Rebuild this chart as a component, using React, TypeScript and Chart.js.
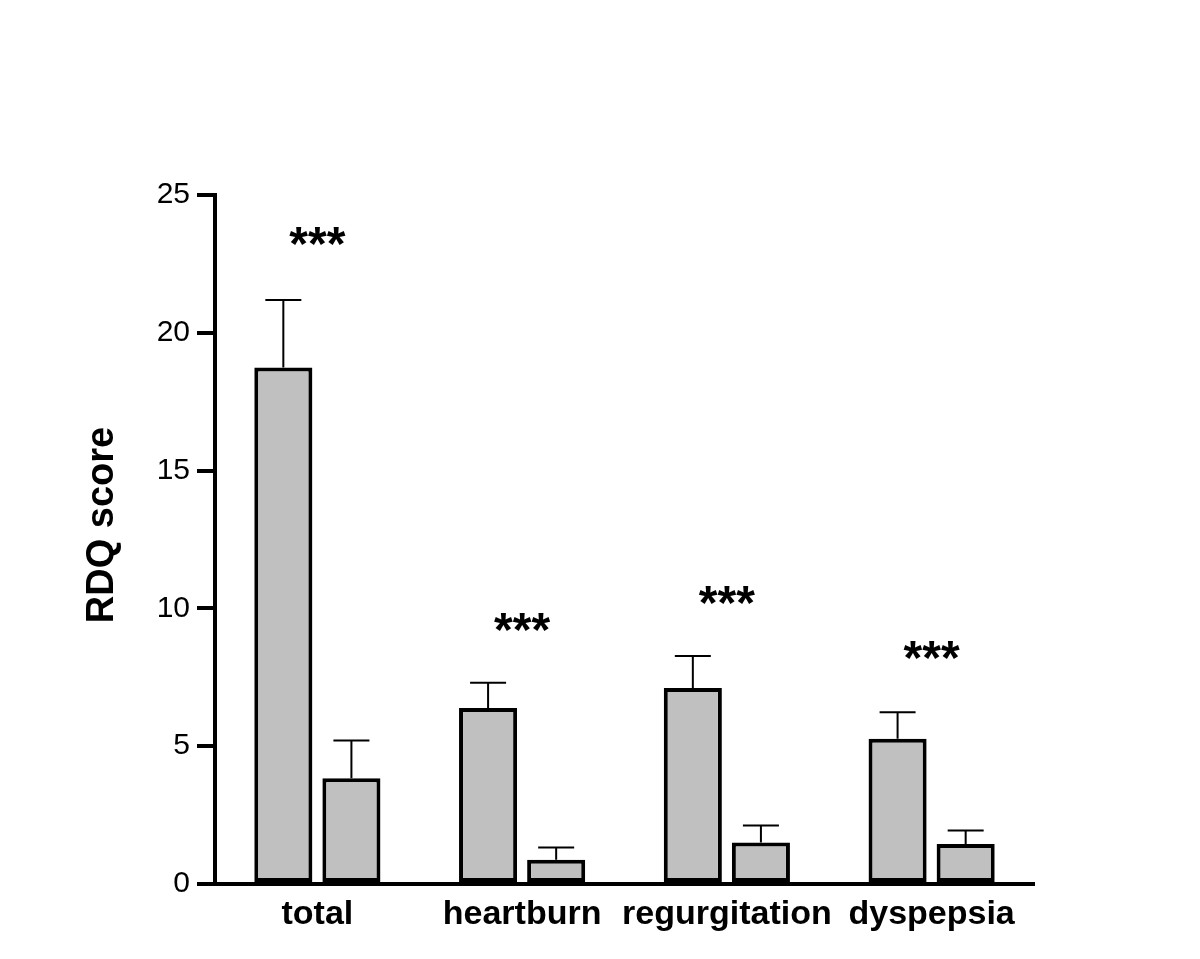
import React, { useEffect, useRef } from "react";
import { Chart, registerables } from "chart.js";

Chart.register(...registerables);

const categories = ["total", "heartburn", "regurgitation", "dyspepsia"];
const seriesNames = ["Before", "After"];
const beforeMeans = [18.74, 6.39, 7.11, 5.27];
const beforeSem = [2.45, 0.91, 1.16, 0.96];
const afterMeans = [3.84, 0.88, 1.51, 1.45];
const afterSem = [1.37, 0.44, 0.61, 0.49];
const starLevels = [23.5, 9.5, 10.5, 8.5];
const starLabels = ["***", "***", "***", "***"];
const yTickValues = [0, 5, 10, 15, 20, 25];
const yTitle = "RDQ score";

const FONT = '"Liberation Sans", Arial, Helvetica, sans-serif';

const errorBarPlugin = {
  id: "errorBars",
  afterDatasetsDraw(chart: any) {
    const ctx = chart.ctx;
    const yScale = chart.scales.y;
    chart.data.datasets.forEach((ds: any, di: number) => {
      const meta = chart.getDatasetMeta(di);
      meta.data.forEach((bar: any, i: number) => {
        const v = ds.data[i];
        const e = ds.errors[i];
        const yTop = yScale.getPixelForValue(v + e);
        const yBar = yScale.getPixelForValue(v);
        ctx.save();
        ctx.strokeStyle = "#000";
        ctx.lineWidth = 2;
        ctx.beginPath();
        ctx.moveTo(bar.x, yBar);
        ctx.lineTo(bar.x, yTop);
        ctx.moveTo(bar.x - 18, yTop);
        ctx.lineTo(bar.x + 18, yTop);
        ctx.stroke();
        ctx.restore();
      });
    });
  },
};

const annotationPlugin = {
  id: "stars",
  afterDraw(chart: any) {
    const ctx = chart.ctx;
    const xScale = chart.scales.x;
    const yScale = chart.scales.y;
    ctx.save();
    ctx.fillStyle = "#000";
    ctx.font = `bold 48px ${FONT}`;
    ctx.textAlign = "center";
    ctx.textBaseline = "alphabetic";
    starLabels.forEach((s, i) => {
      const m = ctx.measureText(s);
      const cy = yScale.getPixelForValue(starLevels[i]);
      const base = cy + (m.actualBoundingBoxAscent - m.actualBoundingBoxDescent) / 2;
      ctx.fillText(s, xScale.getPixelForValue(i), base);
    });
    // y axis title
    ctx.font = `bold 38px ${FONT}`;
    ctx.translate(113, 525);
    ctx.rotate(-Math.PI / 2);
    ctx.textAlign = "center";
    ctx.fillText(yTitle, 0, 0);
    ctx.restore();
  },
};

export default function App() {
  const canvasRef = useRef<HTMLCanvasElement | null>(null);

  useEffect(() => {
    document.body.style.margin = "0";
    const canvas = canvasRef.current;
    if (!canvas) return;
    const chart = new Chart(canvas, {
      type: "bar",
      data: {
        labels: categories,
        datasets: [
          {
            label: seriesNames[0],
            data: beforeMeans,
            errors: beforeSem,
            backgroundColor: "#c0c0c0",
            borderColor: "#000",
            borderWidth: 4,
            borderSkipped: false,
          } as any,
          {
            label: seriesNames[1],
            data: afterMeans,
            errors: afterSem,
            backgroundColor: "#c0c0c0",
            borderColor: "#000",
            borderWidth: 4,
            borderSkipped: false,
          } as any,
        ],
      },
      options: {
        animation: false,
        responsive: false,
        maintainAspectRatio: false,
        devicePixelRatio: 1,
        layout: { padding: { top: 195, right: 166, bottom: 0, left: 0 } },
        datasets: { bar: { categoryPercentage: 0.665, barPercentage: 0.853 } },
        plugins: {
          legend: { display: false },
          tooltip: { enabled: false },
          title: { display: false },
        },
        scales: {
          x: {
            offset: true,
            grid: { display: false, drawTicks: false },
            border: { display: true, color: "#000", width: 4 },
            ticks: {
              color: "#000",
              padding: 10,
              font: { family: FONT, size: 34, weight: "bold" },
              maxRotation: 0,
              autoSkip: false,
            },
            afterFit(scale: any) {
              scale.height = 75;
            },
          },
          y: {
            min: 0,
            max: 25,
            grid: {
              drawOnChartArea: false,
              drawTicks: true,
              tickLength: 18,
              lineWidth: 4,
              color: "#000",
            },
            border: { display: true, color: "#000", width: 4 },
            ticks: {
              color: "#000",
              padding: 7,
              font: { family: FONT, size: 30 },
            },
            afterBuildTicks(scale: any) {
              scale.ticks = yTickValues.map((v) => ({ value: v }));
            },
            afterFit(scale: any) {
              scale.width = 215;
            },
          },
        },
      },
      plugins: [errorBarPlugin, annotationPlugin],
    });
    return () => chart.destroy();
  }, []);

  return (
    <div style={{ width: 1200, height: 959, background: "#fff" }}>
      <canvas ref={canvasRef} width={1200} height={959} style={{ display: "block" }} />
    </div>
  );
}
